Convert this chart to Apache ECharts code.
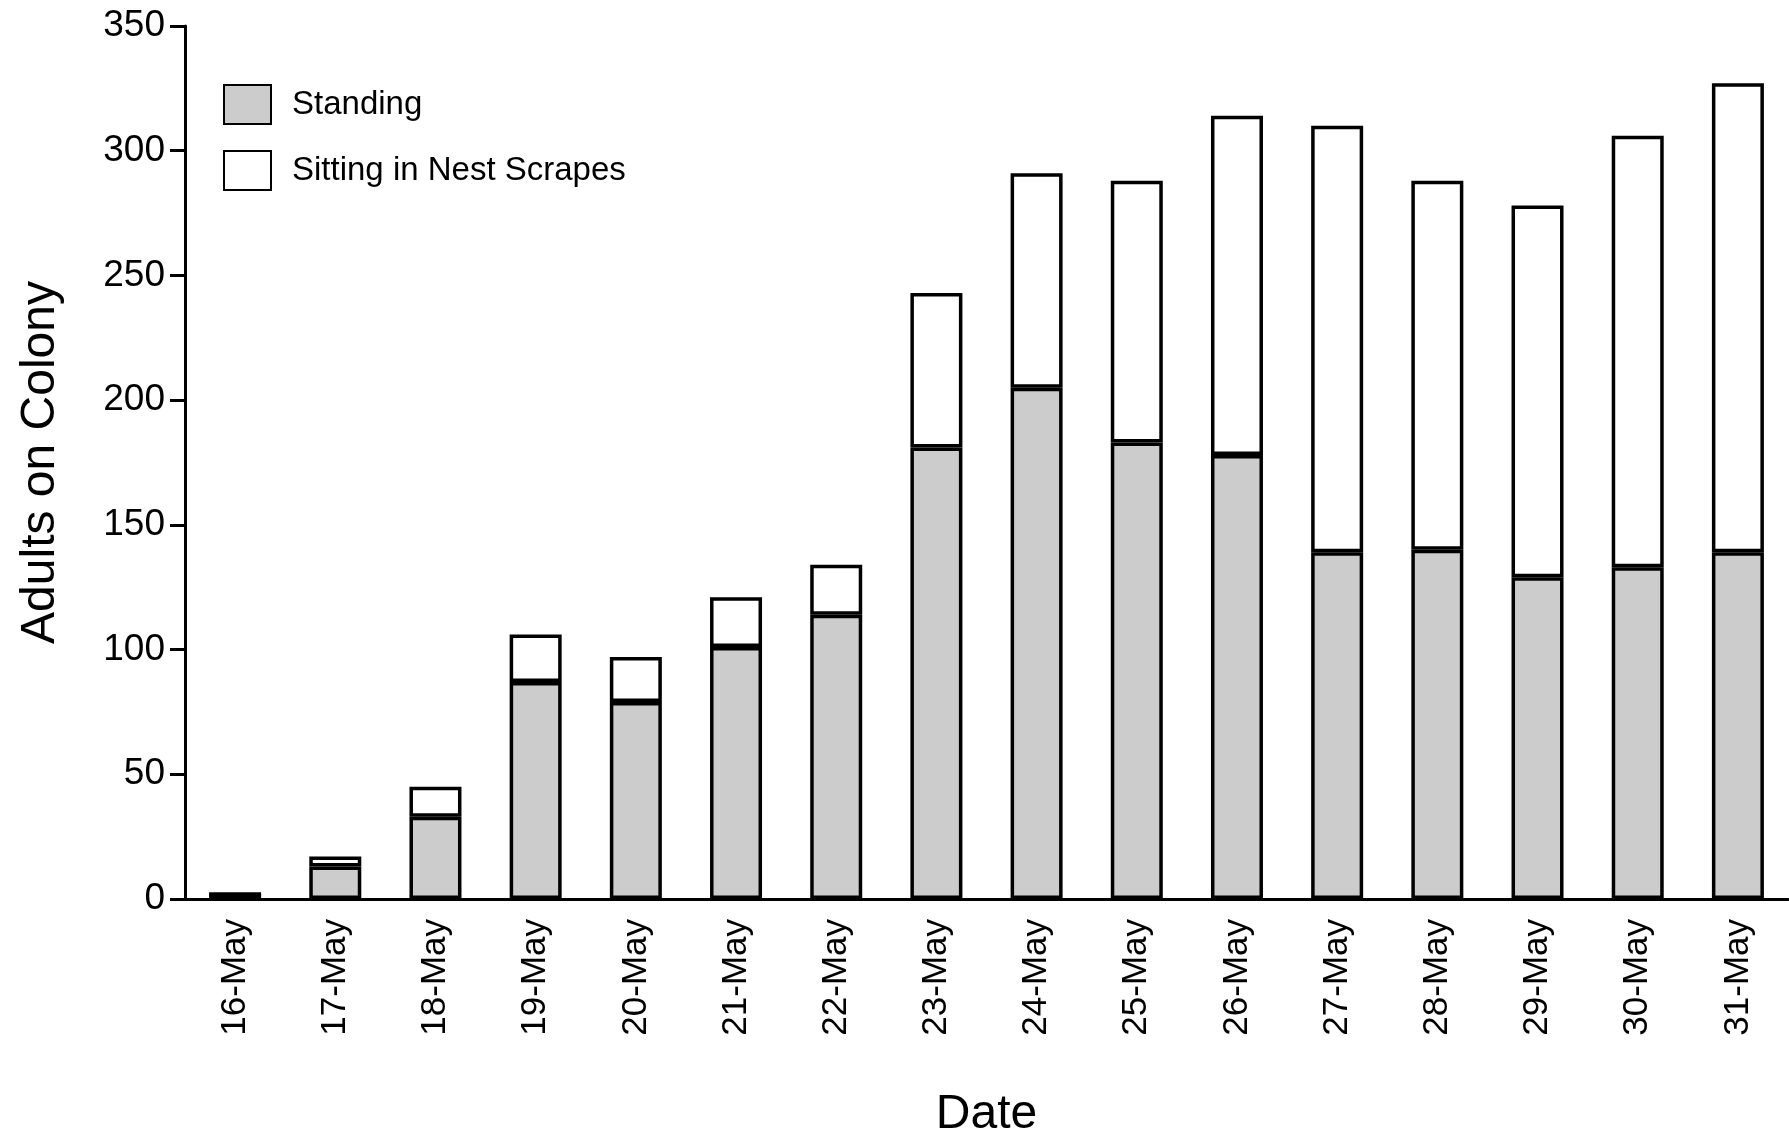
<!DOCTYPE html>
<html>
<head>
<meta charset="utf-8">
<script src="https://cdn.jsdelivr.net/npm/echarts@6/dist/echarts.min.js"></script>
<style>
html,body{margin:0;padding:0;background:#fff;}
#chart{width:1789px;height:1139px;}
</style>
</head>
<body>
<div id="chart"></div>
<script>
const categories = ['16-May','17-May','18-May','19-May','20-May','21-May','22-May','23-May','24-May','25-May','26-May','27-May','28-May','29-May','30-May','31-May'];
const standing = [2, 13, 33, 87, 79, 101, 114, 181, 205, 183, 178, 139, 140, 129, 133, 139];
const sitting  = [0, 4, 12, 19, 18, 20, 20, 62, 86, 105, 136, 171, 148, 149, 173, 188];
const yTicks = [0, 50, 100, 150, 200, 250, 300, 350];

const FONT = '"Liberation Sans", Arial, sans-serif';
const chart = echarts.init(document.getElementById('chart'), null, {renderer: 'canvas'});
chart.setOption({
  animation: false,
  backgroundColor: '#ffffff',
  textStyle: {fontFamily: FONT, color: '#000'},
  legend: {
    orient: 'vertical',
    left: 218,
    top: 79,
    itemWidth: 47,
    itemHeight: 39,
    itemGap: 25,
    icon: 'rect',
    textStyle: {fontFamily: FONT, fontSize: 33, color: '#000', padding: [0, 0, 0, 16]},
    data: ['Standing', 'Sitting in Nest Scrapes']
  },
  grid: {left: 185, right: 1, top: 26, bottom: 240, containLabel: false, outerBoundsMode: 'none'},
  xAxis: {
    type: 'category',
    data: categories,
    boundaryGap: true,
    name: 'Date',
    nameLocation: 'middle',
    nameGap: 192,
    nameTextStyle: {fontFamily: FONT, fontSize: 48, color: '#000'},
    axisLine: {show: true, lineStyle: {color: '#000', width: 3}},
    axisTick: {show: false},
    axisLabel: {rotate: 90, margin: 20, fontFamily: FONT, fontSize: 35, color: '#000'},
    splitLine: {show: false}
  },
  yAxis: {
    type: 'value',
    min: yTicks[0],
    max: yTicks[yTicks.length - 1],
    interval: 50,
    name: 'Adults on Colony',
    nameLocation: 'middle',
    nameGap: 120,
    nameTextStyle: {fontFamily: FONT, fontSize: 48, color: '#000'},
    axisLine: {show: true, lineStyle: {color: '#000', width: 3}},
    axisTick: {show: true, length: 15, lineStyle: {color: '#000', width: 3}},
    axisLabel: {margin: 20, fontFamily: FONT, fontSize: 37, color: '#000'},
    splitLine: {show: false}
  },
  series: [
    {
      name: 'Standing',
      type: 'bar',
      stack: 'total',
      barWidth: 52,
      data: standing,
      itemStyle: {color: '#cccccc', borderColor: '#000', borderWidth: 3.5}
    },
    {
      name: 'Sitting in Nest Scrapes',
      type: 'bar',
      stack: 'total',
      barWidth: 52,
      data: sitting,
      itemStyle: {color: '#ffffff', borderColor: '#000', borderWidth: 3.5}
    }
  ]
});
</script>
</body>
</html>
